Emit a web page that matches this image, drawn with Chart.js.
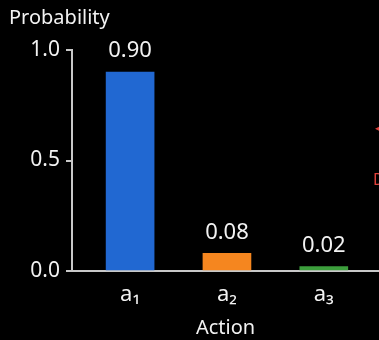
<!DOCTYPE html>
<html>
<head>
<meta charset="utf-8">
<script src="https://cdn.jsdelivr.net/npm/chart.js@4/dist/chart.umd.min.js"></script>
<style>
  html, body { margin:0; padding:0; background:#000; }
  #wrap { width:379px; height:340px; }
</style>
</head>
<body>
<div id="wrap"><canvas id="probChart"></canvas></div>
<script>
// data
var actions = ['a\u2081', 'a\u2082', 'a\u2083']
var positions = [1, 2, 3]
var probs = [0.90, 0.08, 0.02]
var barColors = ['#2168d2', '#f5861f', '#3c9e3c']
var yTicks = [0, 0.5, 1.0]

var FONT = '"Noto Sans", "DejaVu Sans", sans-serif'
var TXT = '#f2f2f2'
var AXIS = '#c8c8c8'

var bgPlugin = {
  id: 'bg',
  beforeDraw: function(chart){
    var c = chart.ctx
    c.save()
    c.fillStyle = '#000'
    c.fillRect(0, 0, chart.width, chart.height)
    c.restore()
  }
}

var labelPlugin = {
  id: 'labels',
  afterDatasetsDraw: function(chart){
    var c = chart.ctx
    var meta = chart.getDatasetMeta(0)
    c.save()
    c.fillStyle = TXT
    c.font = '22px ' + FONT
    c.textAlign = 'center'
    c.textBaseline = 'middle'
    meta.data.forEach(function(bar, i){
      c.fillText(probs[i].toFixed(2), bar.x, bar.y - 21)
    })
    // y axis caption
    c.font = '20px ' + FONT
    c.textAlign = 'left'
    c.fillText('Probability', 9, 18)
    // clipped red bits at right edge
    c.fillStyle = '#e0403a'
    c.font = '16px ' + FONT
    c.fillText('\u25C0', 375, 128)
    c.fillText('D', 373, 180)
    c.restore()
  }
}

new Chart(document.getElementById('probChart'), {
  type: 'bar',
  data: {
    datasets: [{
      data: positions.map(function(p, i){ return {x: p, y: probs[i]} }),
      backgroundColor: barColors,
      borderWidth: 0,
      barThickness: 48
    }]
  },
  options: {
    responsive: true,
    maintainAspectRatio: false,
    animation: false,
    layout: { padding: { top: 50, right: 0, bottom: 0, left: 0 } },
    plugins: { legend: { display: false }, tooltip: { enabled: false } },
    scales: {
      x: {
        type: 'linear',
        offset: false,
        min: 0.4,
        max: 3.57,
        afterFit: function(s){ s.height = 69 },
        afterBuildTicks: function(s){ s.ticks = positions.map(function(p){ return {value: p} }) },
        grid: { display: false },
        border: { display: true, color: AXIS, width: 2 },
        ticks: {
          color: TXT,
          font: { family: FONT, size: 22 },
          padding: 3,
          callback: function(v){ return actions[positions.indexOf(v)] }
        },
        title: {
          display: true,
          text: 'Action',
          color: TXT,
          font: { family: FONT, size: 20 },
          padding: { top: 0, bottom: 0 }
        }
      },
      y: {
        min: 0,
        max: 1.0,
        afterFit: function(s){ s.width = 72 },
        afterBuildTicks: function(s){ s.ticks = yTicks.map(function(v){ return {value: v} }) },
        grid: { drawOnChartArea: false, drawTicks: true, tickLength: 6, color: AXIS, lineWidth: 2 },
        border: { display: true, color: AXIS, width: 2 },
        ticks: {
          color: TXT,
          font: { family: FONT, size: 21 },
          padding: 6,
          callback: function(v){ return v.toFixed(1) }
        }
      }
    }
  },
  plugins: [bgPlugin, labelPlugin]
})
</script>
</body>
</html>
